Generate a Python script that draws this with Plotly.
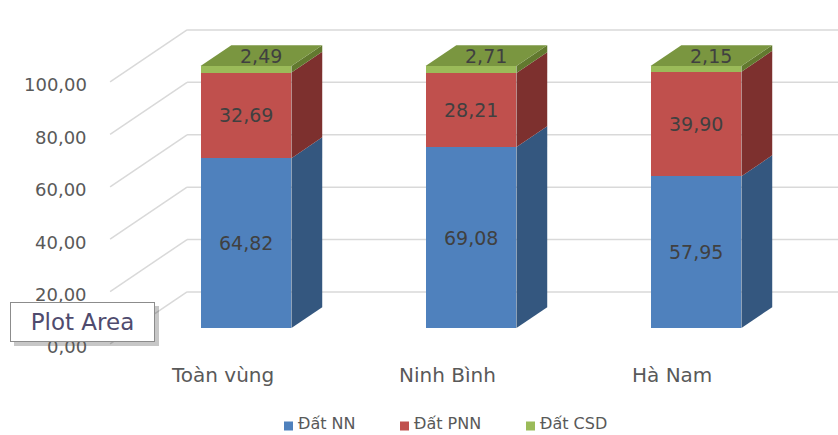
import plotly.graph_objects as go

# ---- data ----
categories = ["Toàn vùng", "Ninh Bình", "Hà Nam"]
series_names = ["Đất NN", "Đất PNN", "Đất CSD"]
dat_nn = [64.82, 69.08, 57.95]
dat_pnn = [32.69, 28.21, 39.90]
dat_csd = [2.49, 2.71, 2.15]
tick_values = [0, 20, 40, 60, 80, 100]
tick_labels = ["0,00", "20,00", "40,00", "60,00", "80,00", "100,00"]

# ---- styling ----
front_colors = ["#4f81bd", "#c0504d", "#9bbb59"]
side_colors = ["#34577f", "#7d302e", "#62792f"]
top_color = "#7a9640"
grid_color = "#d9d9d9"
label_color = "#404040"
axis_text = "#595959"
FONT = "DejaVu Sans"

W, H = 838, 435
PX_PER_X = 225.0     # pixels per category step
PX_PER_Y = 2.62      # pixels per value unit
X_ORIGIN_PX = 246
Y_ORIGIN_PX = 328
x_range = [-X_ORIGIN_PX / PX_PER_X, (W - X_ORIGIN_PX) / PX_PER_X]
y_range = [-(H - Y_ORIGIN_PX) / PX_PER_Y, Y_ORIGIN_PX / PX_PER_Y]

# pseudo-3D box geometry (depth expressed in axis units)
BAR_W = 0.404
DEPTH_X = 0.342
DEPTH_Y = 19.85
T_FRONT = 0.307
T_BACK = 0.707
T_MID = (T_FRONT + T_BACK) / 2
WALL_LEFT = -0.499

# legend entries: left edge of each swatch (px) and the legend row centre (px)
LEGEND_X = [284, 400, 526]
LEGEND_Y = 423
SWATCH = 9


def proj(x, v, t):
    """Project a point at depth t (0 = front, 1 = back wall) onto the chart plane."""
    return x + (t - T_FRONT) * DEPTH_X, v + (t - T_FRONT) * DEPTH_Y


def path(points):
    return "M " + " L ".join(f"{px:.5f},{py:.5f}" for px, py in points) + " Z"


series = [dat_nn, dat_pnn, dat_csd]
xs = list(range(len(categories)))

fig = go.Figure()
for name, vals, col in zip(series_names, series, front_colors):
    fig.add_trace(go.Bar(
        x=xs, y=vals, name=name, width=BAR_W,
        marker=dict(color=col, line=dict(width=0)),
        hoverinfo="skip", showlegend=False,
    ))

shapes = []
# wall gridlines: diagonal on the side wall, horizontal on the back wall
for v in tick_values:
    x0, y0 = proj(WALL_LEFT, v, 0)
    x1, y1 = proj(WALL_LEFT, v, 1)
    shapes.append(dict(type="line", xref="x", yref="y", x0=x0, y0=y0, x1=x1, y1=y1,
                       line=dict(color=grid_color, width=1.5), layer="below"))
    shapes.append(dict(type="line", xref="x", yref="y", x0=x1, y0=y1, x1=x_range[1] + 0.1, y1=y1,
                       line=dict(color=grid_color, width=1.5), layer="below"))

annotations = []
for i in xs:
    base = 0.0
    for k, vals in enumerate(series):
        top = base + vals[i]
        xr = i + BAR_W / 2
        side = [proj(xr, base, T_FRONT), proj(xr, top, T_FRONT),
                proj(xr, top, T_BACK), proj(xr, base, T_BACK)]
        shapes.append(dict(type="path", xref="x", yref="y", path=path(side),
                           fillcolor=side_colors[k], line=dict(width=0), layer="above"))
        if k < 2:
            lx, ly = i, base + vals[i] / 2
        else:
            # the thin top segment is labelled on the top face of the column
            lx, ly = proj(i, top, T_MID)
        annotations.append(dict(x=lx, y=ly, xref="x", yref="y", showarrow=False,
                                text=f"{vals[i]:.2f}".replace(".", ","),
                                font=dict(family=FONT, size=19, color=label_color)))
        base = top
    xl, xr = i - BAR_W / 2, i + BAR_W / 2
    top_face = [proj(xl, base, T_FRONT), proj(xr, base, T_FRONT),
                proj(xr, base, T_BACK), proj(xl, base, T_BACK)]
    shapes.append(dict(type="path", xref="x", yref="y", path=path(top_face),
                       fillcolor=top_color, line=dict(width=0), layer="above"))

# value axis labels at the front edge of the side wall
for v, lab in zip(tick_values, tick_labels):
    tx, ty = proj(WALL_LEFT, v, 0)
    annotations.append(dict(x=tx, y=ty, xref="x", yref="y", showarrow=False, text=lab,
                            xanchor="right", yanchor="middle", xshift=-21, yshift=-3,
                            font=dict(family=FONT, size=18, color=axis_text)))

# category labels along the front edge of the floor
for i, cat in zip(xs, categories):
    cx, cy = proj(i, 0, 0)
    annotations.append(dict(x=cx, y=cy, xref="x", yref="y", showarrow=False, text=cat,
                            xanchor="center", yanchor="top", yshift=-17,
                            font=dict(family=FONT, size=20, color=axis_text)))

# legend row
for name, col, lx in zip(series_names, front_colors, LEGEND_X):
    shapes.append(dict(type="rect", xref="paper", yref="paper",
                       x0=lx / W, x1=(lx + SWATCH) / W,
                       y0=1 - (LEGEND_Y + 3 + SWATCH / 2) / H, y1=1 - (LEGEND_Y + 3 - SWATCH / 2) / H,
                       fillcolor=col, line=dict(width=0)))
    annotations.append(dict(x=(lx + SWATCH + 3) / W, y=1 - LEGEND_Y / H, xref="paper", yref="paper",
                            showarrow=False, text=name, xanchor="left", yanchor="middle",
                            font=dict(family=FONT, size=16, color=axis_text)))

# "Plot Area" hover tip with drop shadow
shapes.append(dict(type="rect", xref="paper", yref="paper",
                   x0=14 / W, x1=159 / W, y0=1 - 346 / H, y1=1 - 306 / H,
                   fillcolor="rgba(0,0,0,0.22)", line=dict(width=0), layer="above"))
annotations.append(dict(x=82.5 / W, y=1 - 322 / H, xref="paper", yref="paper", showarrow=False,
                        text="Plot Area", width=141, height=36, bgcolor="white",
                        bordercolor="#8c8c8c", borderwidth=1, borderpad=1,
                        xanchor="center", yanchor="middle",
                        font=dict(family=FONT, size=23, color="#4f4b6e")))

fig.update_layout(
    width=W, height=H,
    margin=dict(l=0, r=0, t=0, b=0, autoexpand=False),
    barmode="stack",
    paper_bgcolor="white", plot_bgcolor="white",
    xaxis=dict(range=x_range, visible=False, fixedrange=True),
    yaxis=dict(range=y_range, visible=False, fixedrange=True),
    shapes=shapes,
    annotations=annotations,
    showlegend=False,
)

fig.write_html("out.html")
